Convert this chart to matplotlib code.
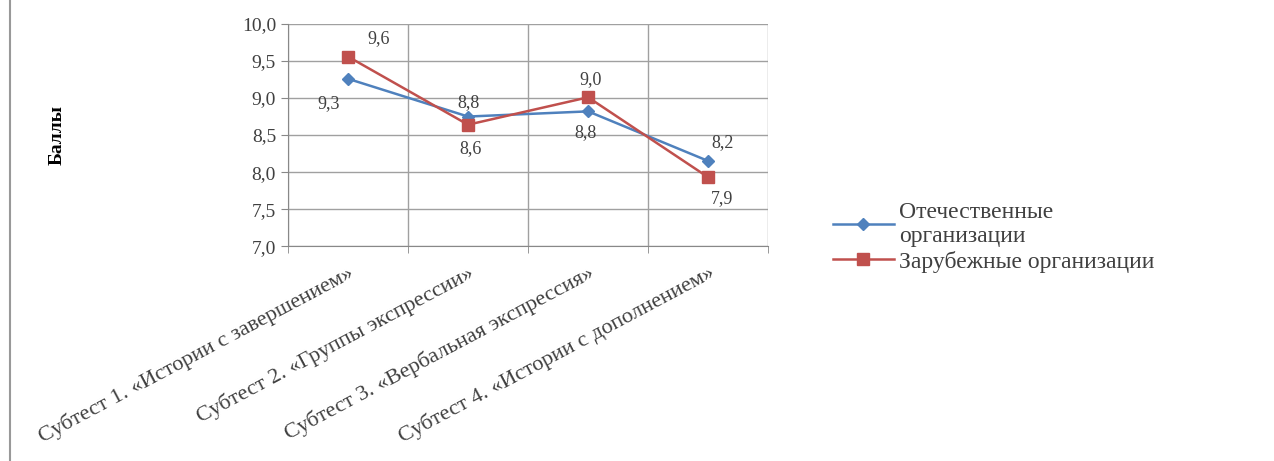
import matplotlib
matplotlib.use("Agg")
import matplotlib.pyplot as plt
from matplotlib.lines import Line2D

plt.rcParams['font.family'] = ['Liberation Serif', 'DejaVu Serif']

# Scores per subtest
categories = ['Субтест 1. «Истории с завершением»',
              'Субтест 2. «Группы экспрессии»',
              'Субтест 3. «Вербальная экспрессия»',
              'Субтест 4. «Истории с дополнением»']
domestic = [9.26, 8.75, 8.82, 8.15]
foreign = [9.56, 8.64, 9.01, 7.93]
series_names = ['Отечественные\nорганизации', 'Зарубежные организации']

blue = '#4F81BD'
red = '#C0504D'
txt = '#404040'


def comma(v):
    return f'{v:.1f}'.replace('.', ',')


fig = plt.figure(figsize=(12.74, 4.61), dpi=100)
ax = fig.add_axes([0.226, 0.466, 0.377, 0.482])

x = list(range(len(categories)))
ax.plot(x, domestic, color=blue, lw=1.8, marker='D', ms=6, label=series_names[0], zorder=3)
ax.plot(x, foreign, color=red, lw=1.8, marker='s', ms=9, label=series_names[1], zorder=3)

# data labels: offsets in points
offs_d = [(-14, -18), (0, 10), (-2, -15), (10, 13)]
offs_f = [(22, 13), (2, -17), (2, 13), (10, -15)]
for i in x:
    ax.annotate(comma(domestic[i]), (i, domestic[i]), xytext=offs_d[i],
                textcoords='offset points', ha='center', va='center', fontsize=13, color=txt)
    ax.annotate(comma(foreign[i]), (i, foreign[i]), xytext=offs_f[i],
                textcoords='offset points', ha='center', va='center', fontsize=13, color=txt)

ax.set_xlim(-0.5, len(categories) - 0.5)
ax.set_ylim(7.0, 10.0)
ax.set_yticks([7.0, 7.5, 8.0, 8.5, 9.0, 9.5, 10.0])
ax.set_yticklabels([comma(v) for v in ax.get_yticks()], fontsize=14, color=txt)
ax.set_xticks(x)
ax.set_xticklabels(categories, rotation=28, ha='right', rotation_mode='anchor', fontsize=16, color=txt)
ax.set_xticks([-0.5, 0.5, 1.5, 2.5, 3.5], minor=True)
ax.tick_params(axis='x', which='major', length=0, pad=12)
ax.tick_params(axis='x', which='minor', length=5, color='#888888')
ax.tick_params(axis='y', length=5, color='#888888')

ax.grid(True, axis='y', color='#a0a0a0', lw=1)
ax.grid(True, axis='x', which='minor', color='#a0a0a0', lw=1)
for s in ['top', 'right']:
    ax.spines[s].set_visible(False)
for s in ['left', 'bottom']:
    ax.spines[s].set_color('#888888')

ax.set_ylabel('Баллы', fontsize=14, fontweight='bold', labelpad=127)

ax.legend(loc='center left', bbox_to_anchor=(1.09, 0.04), frameon=False, fontsize=17,
          labelcolor=txt, handlelength=2.6, labelspacing=0.15, handletextpad=0.2)

fig.add_artist(Line2D([0.008, 0.008], [0.0, 1.0], color='#999999', lw=1.5))

fig.savefig('out.png', dpi=100)
